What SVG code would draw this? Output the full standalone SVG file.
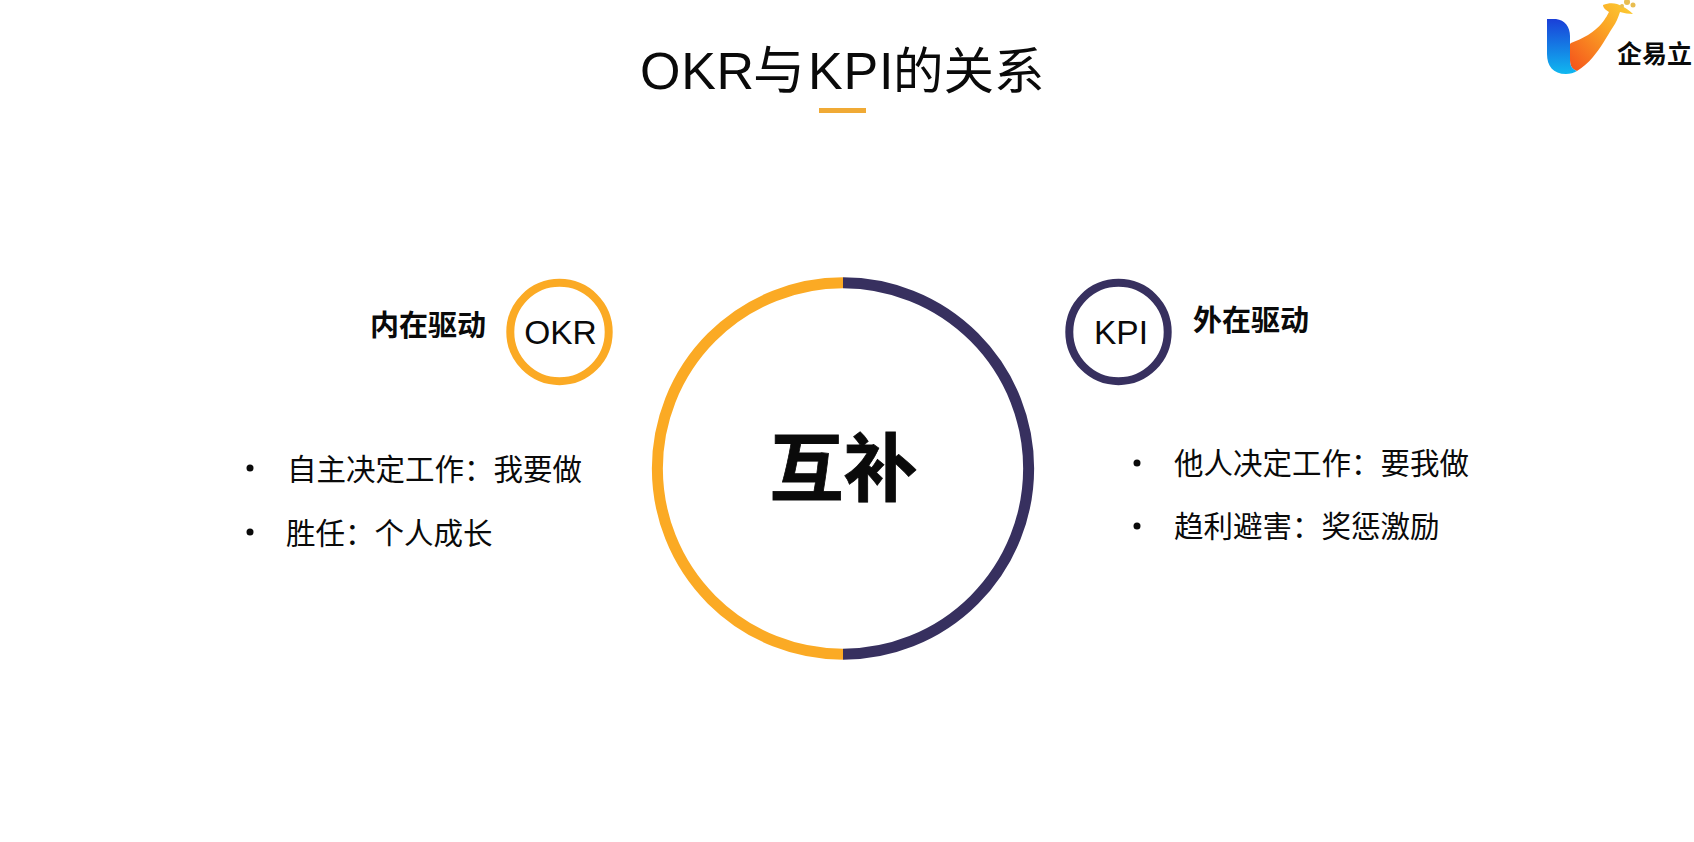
<svg xmlns="http://www.w3.org/2000/svg" width="1694" height="842" viewBox="0 0 1694 842">
<defs>
<style>
text{font-family:"Liberation Sans","Noto Sans CJK SC",sans-serif;fill:#0a0a0a}
.cjk{font-family:"Noto Sans CJK SC","Liberation Sans",sans-serif}
.body{font-size:29.5px;font-family:"Noto Sans CJK SC",sans-serif}
.head{font-size:29px;font-weight:700;font-family:"Noto Sans CJK SC",sans-serif}
.abbr{font-size:33.500px;text-anchor:middle}
.o{stroke:#fbaa24;fill:none}
.p{stroke:#37305f;fill:none}
</style>
<linearGradient id="lb" x1="0" y1="0" x2="0" y2="1"><stop offset="0" stop-color="#1a3fd8"/><stop offset="1" stop-color="#10b8f0"/></linearGradient>
<linearGradient id="lo" x1="0" y1="1" x2="1" y2="0"><stop offset="0" stop-color="#f4501c"/><stop offset="0.6" stop-color="#fba524"/><stop offset="1" stop-color="#fcd034"/></linearGradient>
</defs>
<rect width="1694" height="842" fill="#fff"/>
<g id="logo">
<path d="M1571 43C1582 39 1595 32 1602 23C1606 18 1608 14 1609 12C1606 10 1603 8 1603 5C1608 3 1613 3 1617 4C1623 6 1629 10 1633 14C1629 14 1624 13 1620 12C1618 18 1616 23 1613 27C1606 38 1600 49 1593 57C1588 63 1583 67 1577 71C1572 69 1570 66 1570 60V44Z" fill="url(#lo)"/>
<path d="M1547 19H1556C1565 20 1570 27 1570 36V60C1570 66 1572 69 1577 71C1574 73 1570 74 1566 74C1553 74 1547 66 1547 54Z" fill="url(#lb)"/>
<circle cx="1627" cy="2" r="3" fill="#e8bd50"/><circle cx="1633" cy="5" r="2.500" fill="#e8bd50"/><circle cx="1622" cy="6" r="2" fill="#e8bd50"/>
<text x="1617" y="63" font-size="25" font-weight="700" class="cjk">企易立</text>
</g>
<g id="title">
<text y="89" font-size="52"><tspan x="640" letter-spacing="0.700">OKR</tspan><tspan x="753" class="cjk">与</tspan><tspan x="808" letter-spacing="0.800">KPI</tspan><tspan x="893" font-size="50.500" class="cjk">的关系</tspan></text>
<rect x="819" y="108" width="47" height="5" fill="#f0aa35"/>
</g>
<g id="center">
<path class="o" stroke-width="11" d="M843 282.800A185.700 185.700 0 0 0 843 654.200"/>
<path class="p" stroke-width="11" d="M843 282.800A185.700 185.700 0 0 1 843 654.200"/>
<text x="843.500" y="494.500" font-size="74" font-weight="700" text-anchor="middle" class="cjk" style="stroke:#0a0a0a;stroke-width:.8px">互补</text>
</g>
<g id="okr">
<circle class="o" cx="559.500" cy="332" r="49.200" stroke-width="8"/>
<text class="abbr" x="560.500" y="343.500">OKR</text>
<text class="head" x="370" y="336">内在驱动</text>
</g>
<g id="kpi">
<circle class="p" cx="1118.500" cy="332" r="49.200" stroke-width="8"/>
<text class="abbr" x="1121" y="343.500">KPI</text>
<text class="head" x="1193" y="331">外在驱动</text>
</g>
<g id="okr-list">
<circle cx="250" cy="468" r="3.500" fill="#0a0a0a"/>
<text class="body" x="287" y="480">自主决定工作：我要做</text>
<circle cx="250" cy="532" r="3.500" fill="#0a0a0a"/>
<text class="body" x="286" y="544">胜任：个人成长</text>
</g>
<g id="kpi-list">
<circle cx="1137" cy="463" r="3.500" fill="#0a0a0a"/>
<text class="body" x="1174" y="474">他人决定工作：要我做</text>
<circle cx="1137" cy="526" r="3.500" fill="#0a0a0a"/>
<text class="body" x="1174" y="537">趋利避害：奖惩激励</text>
</g>
</svg>
